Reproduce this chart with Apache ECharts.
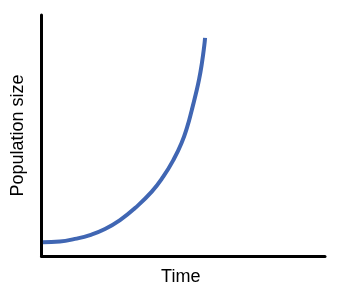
<!DOCTYPE html>
<html>
<head>
<meta charset="utf-8">
<script src="https://cdn.jsdelivr.net/npm/echarts@6/dist/echarts.min.js"></script>
<style>
html,body{margin:0;padding:0;background:#fff;}
#chart{width:337px;height:286px;}
</style>
</head>
<body>
<div id="chart"></div>
<script>
// Time values (arbitrary units, axis 0..10)
const time = [0.05, 0.65, 1.18, 1.71, 2.24, 2.77, 3.30, 3.89, 4.30, 4.65, 4.94, 5.14, 5.30, 5.44, 5.56, 5.66, 5.74, 5.77];
// Population size (arbitrary units, axis 0..100)
const population = [5.7, 6.0, 7.1, 8.7, 11.2, 14.9, 19.9, 26.7, 33.0, 39.8, 46.9, 53.6, 60.5, 67.1, 73.4, 80.2, 87.1, 90.5];
const xName = 'Time';
const yName = 'Population size';

const chart = echarts.init(document.getElementById('chart'), null, {renderer: 'canvas'});
chart.setOption({
  animation: false,
  backgroundColor: '#ffffff',
  grid: {left: 41.5, right: 12, top: 15, bottom: 30, containLabel: false, outerBoundsMode: 'none'},
  xAxis: {
    type: 'value', min: 0, max: 10,
    name: xName, nameLocation: 'middle', nameGap: 12,
    nameTextStyle: {fontFamily: 'Liberation Sans', fontSize: 18, color: '#000', padding: [0, 5, 0, 0]},
    axisLine: {show: true, lineStyle: {color: '#000', width: 3}},
    axisTick: {show: false}, axisLabel: {show: false}, splitLine: {show: false}
  },
  yAxis: {
    type: 'value', min: 0, max: 100,
    name: yName, nameLocation: 'middle', nameGap: 14,
    nameTextStyle: {fontFamily: 'Liberation Sans', fontSize: 18, color: '#000'},
    axisLine: {show: true, lineStyle: {color: '#000', width: 3}},
    axisTick: {show: false}, axisLabel: {show: false}, splitLine: {show: false}
  },
  series: [{
    type: 'line',
    data: time.map((t, i) => [t, population[i]]),
    smooth: 0.5,
    showSymbol: false,
    lineStyle: {color: '#4066b3', width: 4}
  }]
});
</script>
</body>
</html>
